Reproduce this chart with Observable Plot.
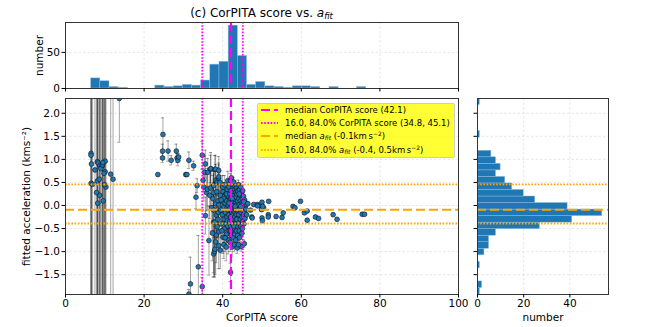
<!DOCTYPE html>
<html><head><meta charset="utf-8">
<script src="https://cdn.jsdelivr.net/npm/d3@7"></script>
<script src="https://cdn.jsdelivr.net/npm/@observablehq/plot@0.6"></script>
<style>
body{margin:0;background:#fff;font-family:"DejaVu Sans",sans-serif;}
#fig{position:relative;width:654px;height:327px;overflow:hidden;background:#fff}
#fig svg{position:absolute;left:0;top:0}
#title{position:absolute;left:0;width:523px;top:5px;text-align:center;font-size:12px;line-height:16px;color:#000;white-space:nowrap}
#title sub,#legend sub{font-size:0.7em;vertical-align:-0.25em;line-height:0}
#legend sup{font-size:0.7em;vertical-align:0.45em;line-height:0}
#legend{position:absolute;left:257px;top:103px;width:196px;height:53px;background:rgba(255,255,0,0.8);border:1px solid #ccc;border-radius:2px;font-size:8.5px;color:#000}
#legend .row{position:absolute;left:0;height:12px;display:flex;align-items:center;white-space:nowrap}
#legend .row svg{position:static;margin-left:3px;margin-right:7px}
</style></head><body><div id="fig"><div id="title">(c) CorPITA score vs. <i>a</i><sub><i>fit</i></sub></div></div>
<script>
// ---- scatter data: CorPITA score, fitted acceleration (km s^-2) and its error ----
const score = [
 6.5,6.5,6.6,7.5,8.1,8.3,8.8,9.3,9.0,10.1,10.1,11.5,12.1,10.3,8.1,8.6,6.5,6.9,7.9,8.7,8.2,9.6,9.4,9.9,9.8,9.5,13.7,
 23.5,24.8,24.7,24.7,26.1,26.9,28.2,28.4,28.6,28.8,30.6,30.9,31.4,32.6,33.2,33.5,33.8,31.8,31.4,
 34.8,34.8,35.0,35.2,35.4,35.6,35.9,36.1,36.2,36.5,35.6,36.7,
 36.9,36.9,37.0,37.2,37.5,37.7,37.7,37.7,37.7,37.7,37.9,38.0,38.0,38.0,38.2,38.2,38.2,38.2,38.4,38.4,38.6,38.6,38.8,38.8,39.0,39.0,39.0,39.0,39.0,39.0,38.5,37.4,38.9,
 39.3,39.4,39.4,39.6,39.9,39.9,40.1,40.1,40.2,40.3,40.4,40.5,40.6,40.7,40.8,40.8,41.0,41.0,41.1,41.1,41.2,41.3,41.3,41.3,41.4,41.4,41.4,39.6,39.8,40.0,40.3,40.6,40.9,41.2,39.5,40.5,41.0,
 41.6,41.6,41.7,41.7,41.8,41.8,41.9,41.9,42.0,42.0,42.0,42.0,42.1,42.1,42.1,42.2,42.2,42.2,42.3,42.3,42.3,42.4,42.4,42.4,42.5,42.5,42.5,42.6,42.6,42.6,42.7,42.7,42.7,42.8,42.8,42.8,42.9,42.9,42.9,43.0,43.0,43.0,43.1,43.1,43.1,43.2,43.2,43.2,43.3,43.3,43.3,43.4,43.4,43.4,43.5,43.5,43.5,43.6,43.6,43.6,43.7,43.7,43.7,43.8,43.8,43.8,41.6,42.0,42.4,42.8,43.2,43.6,
 43.9,43.9,44.0,44.0,44.1,44.1,44.2,44.2,44.3,44.3,44.4,44.4,44.5,44.5,44.6,44.6,44.7,44.7,44.8,44.8,44.9,44.9,45.0,45.0,45.1,45.1,45.2,45.2,45.3,45.3,45.4,45.5,45.5,45.6,45.6,45.7,45.8,45.9,46.0,46.1,44.2,44.6,45.0,45.4,44.0,
 46.4,47.1,47.4,47.5,47.9,48.8,49.4,50.0,50.4,50.0,50.1,49.9,48.9,50.2,51.7,51.6,51.6,53.6,55.1,55.4,57.9,58.4,59.8,60.8,61.5,61.5,63.6,64.4,68.1,69.1,75.5,76.1
];
const accel = [
 1.13,1.09,0.90,0.77,0.95,0.92,0.87,0.86,0.80,0.96,0.73,0.68,0.57,0.40,0.53,0.57,0.48,0.46,0.28,0.22,0.05,0.10,0.88,0.45,0.70,0.93,2.32,
 0.67,1.54,1.18,1.03,1.18,0.98,1.18,1.03,0.98,1.05,0.67,0.67,0.98,0.86,0.18,0.43,-1.33,-1.70,-1.92,
 1.09,-1.76,0.55,0.40,0.72,0.90,0.28,0.35,0.72,-0.76,-0.22,0.22,
 0.79,0.38,0.80,-0.05,0.15,0.28,0.43,-0.10,-0.36,-1.05,-1.00,0.78,-0.36,-0.95,0.54,0.79,0.04,-0.79,-0.21,-0.64,0.51,-0.46,0.10,-0.30,0.76,0.58,0.01,-0.57,-0.87,0.62,0.30,-0.60,-0.15,
 0.50,0.22,-0.97,-0.40,0.08,-0.20,-0.69,0.30,-0.05,0.15,-0.30,-0.50,0.05,-0.15,0.25,-0.40,-0.62,0.10,-0.05,-0.25,0.35,0.54,-0.10,-0.45,0.00,-0.75,0.20,0.12,-0.55,0.40,-0.85,-0.70,-0.90,-0.33,-0.10,0.45,0.25,
 0.40,-0.20,0.10,-0.55,0.25,-0.35,-0.05,-0.80,0.54,0.15,-0.25,-1.45,-0.10,0.32,-0.45,0.60,0.05,-0.65,-0.15,0.20,-0.35,0.45,-0.02,-0.90,-0.22,0.30,-0.55,0.10,-0.08,-0.40,0.38,-0.18,-0.70,0.51,0.00,-0.30,0.22,-0.12,-0.50,0.35,-0.05,-0.85,0.12,-0.25,-0.62,0.42,-0.15,-0.40,0.05,0.28,-0.75,-0.08,-0.32,0.18,0.38,-0.20,-0.55,0.02,-0.45,0.25,-0.12,0.32,-0.92,0.10,-0.28,-0.65,0.05,-0.55,0.15,-0.45,-0.02,-0.30,
 0.30,-0.10,0.45,-0.38,0.15,-0.20,-0.55,0.02,0.35,-0.70,-0.08,0.22,-0.30,0.10,-0.45,0.40,-0.89,-0.15,0.05,0.28,-0.25,-0.60,0.15,-0.05,-0.35,0.32,-0.12,0.05,-0.22,0.20,-0.40,-0.83,0.00,0.12,-0.15,-0.28,0.05,-0.08,0.02,-0.20,0.25,-0.02,-0.50,0.08,-0.85,
 0.04,-0.10,-0.25,-0.27,0.02,0.02,0.00,0.07,-0.05,-0.27,-0.33,-0.09,-0.01,-0.02,0.09,-0.20,-0.25,-0.24,-0.26,-0.16,-0.02,-0.05,0.09,-0.16,-0.12,-0.32,-0.25,-0.28,-0.20,-0.30,-0.19,-0.19
];
const accelErr = [
 4.0,3.6,4.2,3.8,4.5,3.9,4.1,3.7,4.4,4.0,3.5,3.2,3.0,4.2,3.8,4.0,3.3,4.1,3.6,4.3,3.9,4.0,3.8,3.4,4.0,3.6,0.95,
 0.03,0.36,0.15,0.10,0.22,0.10,0.15,0.10,0.12,0.08,0.03,0.03,0.18,0.10,0.25,0.15,0.68,0.58,0.10,
 0.30,0.20,0.25,0.30,0.35,0.30,0.40,0.45,0.30,0.75,0.40,0.50,
 0.30,0.40,0.35,0.50,0.50,0.40,0.30,0.60,1.10,0.50,0.55,0.30,0.60,0.60,0.35,0.30,0.40,0.70,0.50,0.60,0.30,0.50,0.35,0.40,0.30,0.30,0.30,0.40,0.50,0.30,0.30,0.60,0.40,
 0.25,0.30,0.40,0.30,0.25,0.30,0.35,0.20,0.20,0.20,0.25,0.30,0.20,0.20,0.20,0.25,0.30,0.20,0.15,0.20,0.20,0.20,0.15,0.25,0.15,0.30,0.15,0.30,0.30,0.25,0.30,0.30,0.30,0.20,0.30,0.20,0.20,
 0.15,0.10,0.10,0.20,0.10,0.15,0.10,0.20,0.15,0.10,0.10,0.20,0.10,0.10,0.15,0.15,0.10,0.15,0.10,0.10,0.10,0.10,0.10,0.20,0.10,0.10,0.15,0.10,0.08,0.10,0.10,0.08,0.15,0.10,0.08,0.10,0.08,0.08,0.10,0.10,0.08,0.15,0.08,0.08,0.10,0.10,0.08,0.10,0.08,0.08,0.12,0.08,0.08,0.08,0.10,0.08,0.10,0.08,0.08,0.08,0.08,0.08,0.12,0.08,0.08,0.10,0.10,0.15,0.08,0.10,0.08,0.08,
 0.08,0.08,0.10,0.10,0.08,0.08,0.10,0.06,0.08,0.10,0.06,0.06,0.08,0.06,0.08,0.08,0.10,0.06,0.06,0.06,0.06,0.08,0.06,0.06,0.06,0.06,0.05,0.05,0.05,0.05,0.06,0.08,0.05,0.05,0.05,0.05,0.05,0.05,0.05,0.05,0.06,0.06,0.06,0.05,0.10,
 0.03,0.03,0.03,0.03,0.03,0.03,0.03,0.03,0.03,0.03,0.03,0.03,0.03,0.03,0.03,0.03,0.03,0.03,0.03,0.03,0.03,0.03,0.03,0.03,0.03,0.03,0.03,0.03,0.03,0.03,0.03,0.03
];
// ---- histogram counts (30 bins each) ----
const scoreHistRange = [6.53, 76.5];
const scoreHistCounts = [14,10,2,1,0,0,0,4,2,3,5,4,11,33,37,87,45,5,9,3,2,1,3,3,2,0,2,0,0,2];
const accelHistRange = [-1.93, 2.32];
const accelHistCounts = [1,2,0,0,1,0,3,5,5,8,27,41,54,39,25,20,15,12,8,10,8,6,0,0,1,0,0,0,0,1];
// ---- summary statistics ----
const medianScore = 42.1;
const scorePercentiles = [34.8, 45.1];
const medianAccel = -0.09;
const accelPercentiles = [-0.39, 0.46];
// ---- axis ticks ----
const scoreTicks = [0, 20, 40, 60, 80, 100];
const accelTicks = [-1.5, -1.0, -0.5, 0.0, 0.5, 1.0, 1.5, 2.0];
const scoreCountTicks = [0, 50];
const accelCountTicks = [0, 20, 40];

const W = 654, H = 327;
const BLUE = "#1f77b4", MAG = "#ff00ff", ORA = "#ffa500";
const gridStyle = {stroke: "#dcdcdc", strokeOpacity: 1, strokeWidth: 0.7, strokeDasharray: "2.5,2"};
const baseStyle = {fontFamily: "DejaVu Sans", fontSize: "10.5px", background: "transparent", overflow: "visible", color: "#000"};
const frameStyle = {stroke: "#333", strokeWidth: 1};
const dashed = "9,4", dotted = "1.6,1.6";

const pts = score.map((s, i) => ({x: s, y: accel[i], e: accelErr[i]}));
const capHalf = 0.4;

function bins(range, counts) {
  const w = (range[1] - range[0]) / counts.length;
  return counts.map((c, i) => ({a: range[0] + i * w, b: range[0] + (i + 1) * w, c})).filter(d => d.c > 0);
}

// main scatter
const mainPlot = Plot.plot({
  width: W, height: H, marginLeft: 65, marginRight: 196, marginTop: 98, marginBottom: 33,
  style: baseStyle,
  x: {domain: [0, 100]},
  y: {domain: accelHistRange},
  marks: [
    Plot.gridX([20, 40, 60, 80], gridStyle),
    Plot.gridY(accelTicks, gridStyle),
    Plot.ruleX(pts, {x: "x", y1: d => d.y - d.e, y2: d => d.y + d.e, stroke: "#000", strokeOpacity: 0.45, strokeWidth: 0.8, clip: true}),
    Plot.ruleY(pts, {y: d => d.y + d.e, x1: d => d.x - capHalf, x2: d => d.x + capHalf, stroke: "#000", strokeOpacity: 0.45, strokeWidth: 0.8, clip: true}),
    Plot.ruleY(pts, {y: d => d.y - d.e, x1: d => d.x - capHalf, x2: d => d.x + capHalf, stroke: "#000", strokeOpacity: 0.45, strokeWidth: 0.8, clip: true}),
    Plot.dot(pts, {x: "x", y: "y", r: 2.4, fill: BLUE, stroke: "#111", strokeWidth: 0.6, clip: true}),
    Plot.ruleX([medianScore], {stroke: MAG, strokeWidth: 2.2, strokeDasharray: dashed}),
    Plot.ruleX(scorePercentiles, {stroke: MAG, strokeWidth: 1.8, strokeDasharray: dotted}),
    Plot.ruleY([medianAccel], {stroke: ORA, strokeWidth: 2, strokeDasharray: dashed}),
    Plot.ruleY(accelPercentiles, {stroke: ORA, strokeWidth: 1.8, strokeDasharray: dotted}),
    Plot.frame(frameStyle),
    Plot.axisX({ticks: scoreTicks, tickFormat: d => String(d), tickSize: 3.5, tickPadding: 2, label: "CorPITA score", labelAnchor: "center", labelArrow: "none", labelOffset: 26}),
    Plot.axisY({ticks: accelTicks, tickFormat: d3.format(".1f"), tickSize: 3.5, tickPadding: 2, label: "fitted acceleration (kms⁻²)", labelAnchor: "center", labelArrow: "none", labelOffset: 43})
  ]
});

// top histogram of CorPITA score
const topHist = Plot.plot({
  width: W, height: H, marginLeft: 65, marginRight: 196, marginTop: 22, marginBottom: 239,
  style: baseStyle,
  x: {domain: [0, 100]},
  y: {domain: [0, 91.35]},
  marks: [
    Plot.gridX([20, 40, 60, 80], gridStyle),
    Plot.gridY([50], gridStyle),
    Plot.rectY(bins(scoreHistRange, scoreHistCounts), {x1: "a", x2: "b", y1: 0, y2: "c", fill: BLUE, stroke: "#8db8dc", strokeWidth: 0.5}),
    Plot.ruleX([medianScore], {stroke: MAG, strokeWidth: 2.2, strokeDasharray: dashed}),
    Plot.ruleX(scorePercentiles, {stroke: MAG, strokeWidth: 1.8, strokeDasharray: dotted}),
    Plot.frame(frameStyle),
    Plot.axisX({ticks: scoreTicks, tickFormat: () => "", tickSize: 3.5, label: null}),
    Plot.axisY({ticks: scoreCountTicks, tickFormat: d => String(d), tickSize: 3.5, tickPadding: 2, label: "number", labelAnchor: "center", labelArrow: "none", labelOffset: 30})
  ]
});

// right histogram of fitted acceleration
const rightHist = Plot.plot({
  width: W, height: H, marginLeft: 477, marginRight: 46, marginTop: 98, marginBottom: 33,
  style: baseStyle,
  x: {domain: [0, 56.7]},
  y: {domain: accelHistRange},
  marks: [
    Plot.gridX([20, 40], gridStyle),
    Plot.gridY(accelTicks, gridStyle),
    Plot.rectX(bins(accelHistRange, accelHistCounts), {y1: "a", y2: "b", x1: 0, x2: "c", fill: BLUE, stroke: "#8db8dc", strokeWidth: 0.5, clip: true}),
    Plot.ruleY([medianAccel], {stroke: ORA, strokeWidth: 2, strokeDasharray: dashed}),
    Plot.ruleY(accelPercentiles, {stroke: ORA, strokeWidth: 1.8, strokeDasharray: dotted}),
    Plot.frame(frameStyle),
    Plot.axisX({ticks: accelCountTicks, tickFormat: d => String(d), tickSize: 3.5, tickPadding: 2, label: "number", labelAnchor: "center", labelArrow: "none", labelOffset: 26}),
    Plot.axisY({ticks: accelTicks, tickFormat: () => "", tickSize: 3.5, label: null})
  ]
});

const fig = document.getElementById("fig");
fig.appendChild(topHist);
fig.appendChild(mainPlot);
fig.appendChild(rightHist);

// legend
const legendItems = [
  {color: MAG, dash: dashed, w: 2.2, html: "median CorPITA score (" + medianScore.toFixed(1) + ")"},
  {color: MAG, dash: dotted, w: 1.8, html: "16.0, 84.0% CorPITA score (" + scorePercentiles.map(v => v.toFixed(1)).join(", ") + ")"},
  {color: ORA, dash: dashed, w: 2, html: "median <i>a</i><sub><i>fit</i></sub> (-0.1km&#8201;s<sup>−2</sup>)"},
  {color: ORA, dash: dotted, w: 1.8, html: "16.0, 84.0% <i>a</i><sub><i>fit</i></sub> (-0.4, 0.5km&#8201;s<sup>−2</sup>)"}
];
const leg = document.createElement("div");
leg.id = "legend";
const rowCenters = [6.3, 19.3, 32, 46];
legendItems.forEach((it, i) => {
  const r = document.createElement("div");
  r.className = "row";
  r.style.top = (rowCenters[i] - 6) + "px";
  r.innerHTML = `<svg width="17" height="6"><line x1="0" y1="3" x2="17" y2="3" stroke="${it.color}" stroke-width="${it.w}" stroke-dasharray="${it.dash}"/></svg><span>${it.html}</span>`;
  leg.appendChild(r);
});
fig.appendChild(leg);
</script></body></html>
